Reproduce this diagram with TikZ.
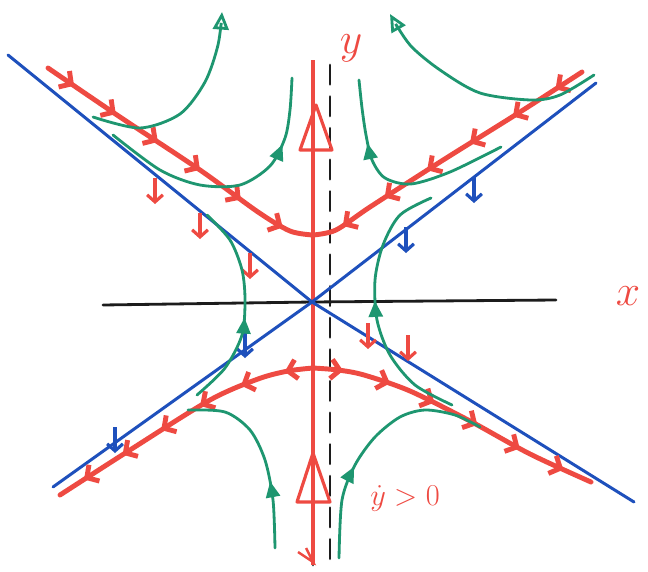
\documentclass[tikz,border=0pt]{standalone}
\usepackage{tikz}
\usetikzlibrary{
  arrows.meta,calc,positioning,decorations.markings
}
\definecolor{SketchRed}{RGB}{238,74,66}
\definecolor{SketchBlue}{RGB}{30,80,188}
\definecolor{SketchGreen}{RGB}{30,150,112}
\definecolor{SketchInk}{RGB}{28,28,28}
\tikzset{
  axisline/.style={line width=1.6pt,SketchInk,line cap=round},
  eigline/.style={line width=1.7pt,SketchBlue,line cap=round},
  nullcline/.style={line width=2.8pt,SketchRed,line cap=round},
  orbit/.style={line width=1.6pt,SketchGreen,line cap=round},
  zmarks/.style={postaction={decorate,decoration={markings,
    mark=between positions 0.1 and 0.92 step #1 with
      {\arrow{Straight Barb[length=5pt,width=11pt]}}}}},
  midtip/.style={postaction={decorate,decoration={markings,
    mark=at position #1 with {\arrow{Triangle[length=9pt,width=8pt]}}}}},
  dnarrow/.style={line width=1.8pt,-{Straight Barb[length=4pt,width=9pt]}},
  endtip/.style={-{Triangle[open,length=10pt,width=9pt]}},
}

\begin{document}
\begin{tikzpicture}[x=0.02cm,y=-0.02cm]
  \useasboundingbox (0,0) rectangle (648,571);
  \coordinate (O) at (312,302);
  % axes and the dashed line
  \draw[axisline] (103,305) -- (O) -- (556,300);
  \draw[axisline] (313,62) -- (313,565);
  \draw[axisline,dash pattern=on 11pt off 7pt] (330,65) -- (330,560);
  % y axis, flowing up
  \draw[SketchRed,line width=2.6pt] (313,565) -- (313,60);
  \draw[SketchRed,line width=1.8pt,line join=round]
    (316,105) -- (300,150) -- (332,150) -- cycle;
  \draw[SketchRed,line width=1.8pt,line join=round]
    (313,453) -- (297,502) -- (330,502) -- cycle;
  \draw[SketchRed,line width=1.4pt] (298,552) -- (313,562) -- (306,548);
  % separatrices
  \draw[eigline] (8,55) -- (O) -- (634,502);
  \draw[eigline] (596,83) -- (O) -- (53,487);
  \foreach \px/\py in {474/197,406/247,245/352,115/447}
    \draw[dnarrow,SketchBlue] (\px,\py-20) -- (\px,\py+6);
  \foreach \px/\py in {155/198,200/233,250/273,368/343,408/355}
    \draw[dnarrow,SketchRed] (\px,\py-20) -- (\px,\py+6);
  % red curves with hatch arrows
  \draw[nullcline,zmarks=0.16] plot[smooth] coordinates
    {(48,68) (120,117) (200,170) (258,212) (290,231) (313,235)};
  \draw[nullcline,zmarks=0.16] plot[smooth] coordinates
    {(582,72) (520,112) (440,162) (370,207) (336,230) (313,235)};
  \draw[nullcline,zmarks=0.16] plot[smooth] coordinates
    {(313,368) (288,371) (258,379) (210,400) (130,450) (60,495)};
  \draw[nullcline,zmarks=0.16] plot[smooth] coordinates
    {(313,368) (338,370) (364,375) (410,391) (470,421) (530,454) (591,482)};
  % orbits
  \draw[orbit,endtip] plot[smooth] coordinates
    {(93,117) (140,128) (180,114) (205,82) (218,45) (222,12)};
  \draw[orbit,midtip=0.75] plot[smooth] coordinates
    {(113,135) (160,170) (200,185) (240,185) (270,166) (285,138) (290,110) (292,78)};
  \draw[orbit,midtip=0.45] plot[smooth] coordinates
    {(197,395) (225,368) (242,335) (245,300) (242,270) (230,240) (207,215)};
  \draw[orbit,endtip] plot[smooth] coordinates
    {(594,75) (560,95) (531,100) (480,93) (440,70) (410,45) (390,14)};
  \draw[orbit,midtip=0.72] plot[smooth] coordinates
    {(501,147) (450,172) (411,184) (385,178) (372,160) (366,135) (362,108) (359,80)};
  \draw[orbit,midtip=0.52] plot[smooth] coordinates
    {(452,405) (415,385) (390,355) (377,320) (375,280) (383,245) (400,215) (431,198)};
  \draw[orbit,midtip=0.35] plot[smooth] coordinates
    {(275,548) (273,500) (265,460) (250,430) (225,412) (188,410)};
  \draw[orbit,midtip=0.38] plot[smooth] coordinates
    {(339,558) (342,500) (355,465) (375,437) (400,417) (425,410) (455,415) (480,427)};
  % labels
  \node[SketchRed,font=\fontsize{40}{40}\selectfont] (ylab) at (351,48) {$y$};
  \node[SketchRed,font=\fontsize{36}{36}\selectfont] (xlab) at (628,296) {$x$};
  \node[SketchRed,font=\fontsize{19}{19}\selectfont] (cond) at (405,498) {$\dot{y}>0$};
\end{tikzpicture}
\end{document}
